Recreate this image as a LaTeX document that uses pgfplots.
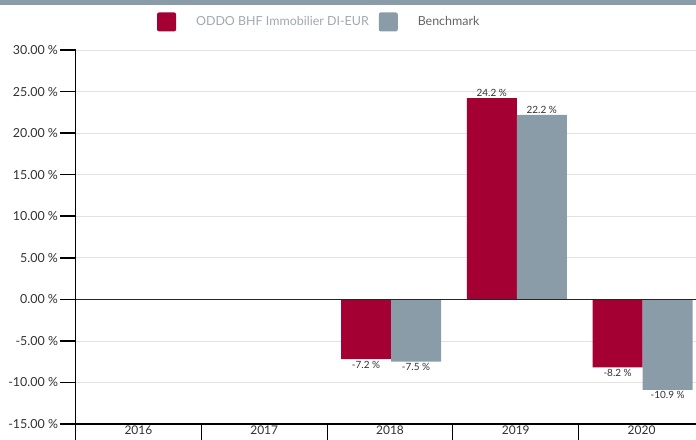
\documentclass[border=0pt]{standalone}
\usepackage{pgfplots}
\pgfplotsset{compat=1.18}
\usepackage{fontspec}
\setmainfont{Lato}
\definecolor{oddored}{RGB}{165,0,52}
\definecolor{benchgray}{RGB}{138,156,168}
\definecolor{gridgray}{RGB}{226,226,226}
\definecolor{txtgray}{RGB}{50,50,50}
\definecolor{legA}{RGB}{160,168,176}
\definecolor{legB}{RGB}{100,100,100}
\begin{document}
\begin{tikzpicture}
\useasboundingbox (0,0) rectangle (696bp,440bp);
\fill[benchgray] (0,435bp) rectangle (696bp,440bp);
\begin{axis}[
  at={(75.5bp,16bp)}, anchor=south west,
  scale only axis, width=629bp, height=374bp,
  xmin=-0.5, xmax=4.5, ymin=-15, ymax=30,
  axis x line*=bottom, axis y line*=left,
  axis line style={black, line width=1.5pt, -},
  tick align=outside,
  xtick={0,1,2,3,4}, xticklabels={2016,2017,2018,2019,2020},
  major x tick style={draw=none},
  minor xtick={-0.5,0.5,1.5,2.5,3.5},
  minor x tick style={black, line width=1pt},
  minor tick length=16bp,
  major tick length=15bp,
  xticklabel style={font=\fontsize{12}{13}\selectfont, text=txtgray, yshift=14bp, inner sep=1bp},
  ytick={-15,-10,...,30},
  major y tick style={black, line width=1.5pt},
  ymajorgrids, grid style={gridgray, line width=0.6pt},
  /pgf/number format/assume math mode=true,
  yticklabel={\pgfmathprintnumber[fixed,fixed zerofill,precision=2]{\tick}~\%},
  yticklabel style={font=\fontsize{12.5}{13}\selectfont, text=txtgray, xshift=1bp},
  legend style={at={(0.3875,1.075)}, anchor=center, draw=none, fill=none,
    legend columns=2, font=\fontsize{12.5}{13}\selectfont,
    /tikz/every odd column/.append style={column sep=18bp},
    /tikz/every even column/.append style={column sep=8bp}},
  legend cell align=left,
]
\addplot[ybar, bar width=50bp, bar shift=-24bp, fill=oddored, draw=none,
  legend image code/.code={\fill[oddored, rounded corners=2bp] (0bp,-9.5bp) rectangle (19bp,9.5bp);},
  nodes near coords={\pgfmathprintnumber[fixed,fixed zerofill,precision=1]{\pgfplotspointmeta}~\%},
  every node near coord/.append style={font=\fontsize{10}{11}\selectfont, text=txtgray, inner sep=1.5bp, xshift=-24bp}]
  coordinates {(2,-7.2) (3,24.2) (4,-8.2)};
\addlegendentry{\textcolor{legA}{ODDO BHF Immobilier DI-EUR}}
\addplot[ybar, bar width=50bp, bar shift=26bp, fill=benchgray, draw=none,
  legend image code/.code={\fill[benchgray, rounded corners=2bp] (0bp,-9.5bp) rectangle (19bp,9.5bp);},
  nodes near coords={\pgfmathprintnumber[fixed,fixed zerofill,precision=1]{\pgfplotspointmeta}~\%},
  every node near coord/.append style={font=\fontsize{10}{11}\selectfont, text=txtgray, inner sep=1.5bp, xshift=26bp}]
  coordinates {(2,-7.5) (3,22.2) (4,-10.9)};
\addlegendentry{\textcolor{legB}{Benchmark}}
\addplot[sharp plot, black!85, line width=1.1pt, forget plot] coordinates {(-0.5,0) (4.5,0)};
\end{axis}
\end{tikzpicture}
\end{document}
